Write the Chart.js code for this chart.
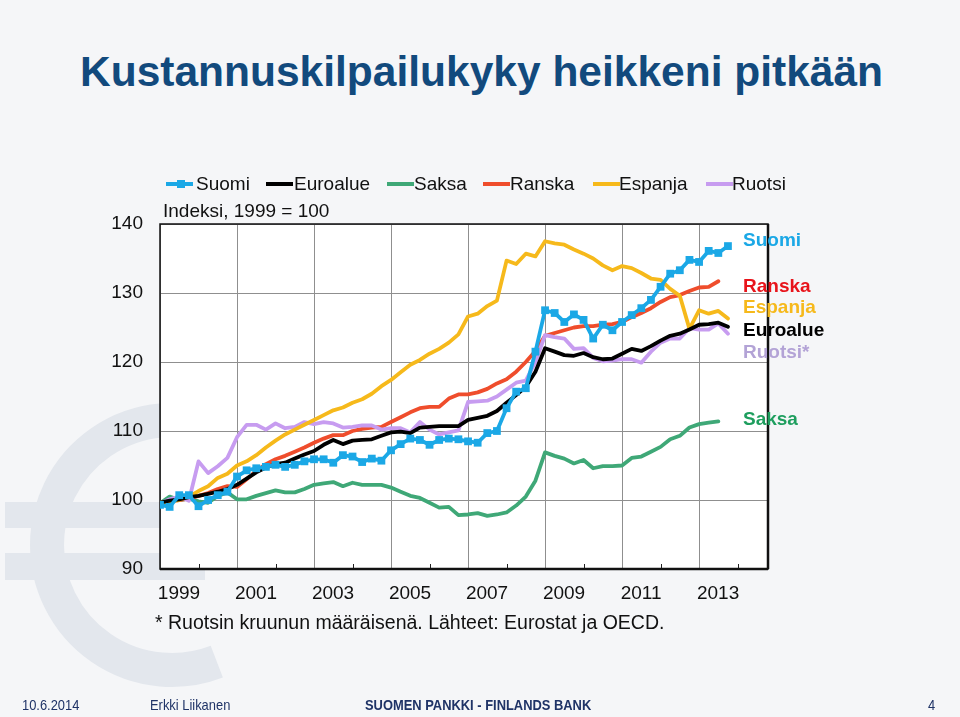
<!DOCTYPE html>
<html lang="fi">
<head>
<meta charset="utf-8">
<title>Kustannuskilpailukyky heikkeni pitkään</title>
<script src="https://cdn.jsdelivr.net/npm/chart.js@4.4.1/dist/chart.umd.min.js"></script>
<style>
  html, body { margin: 0; padding: 0; }
  body {
    width: 960px; height: 717px; overflow: hidden; position: relative;
    background: #f5f6f8;
    font-family: Arial, "Liberation Sans", sans-serif;
  }
  #euro { position: absolute; left: 0; top: 0; }
  #chart { position: absolute; left: 0; top: 0; }
  .txt { position: absolute; white-space: nowrap; font-size: 19px; line-height: 22px; color: #111; }
  .title { left: 80px; top: 47px; font-size: 42.5px; line-height: 50px; font-weight: bold; color: #124a7d; }
  .lg-line { position: absolute; height: 4px; width: 27px; top: 182px; }
  .lg-mark { position: absolute; width: 8px; height: 8px; top: 180px; background: #1ba8e6; }
  .end { font-weight: bold; left: 743px; }
  .foot {
    font-family: "Liberation Sans Narrow", "Arial Narrow", Arial, sans-serif;
    font-size: 15px; line-height: 18px; top: 696px; color: #1f3366;
    transform: scaleX(0.86); transform-origin: left center;
  }
</style>
</head>
<body>
<svg id="euro" width="960" height="717">
  <path d="M216.8 661.7 A125 125 0 1 1 216.8 428.3" fill="none" stroke="#e3e7ed" stroke-width="34"/>
  <rect x="5" y="502" width="200" height="26" fill="#e3e7ed"/>
  <rect x="5" y="553" width="200" height="27" fill="#e3e7ed"/>
</svg>

<div class="txt title">Kustannuskilpailukyky heikkeni pitkään</div>

<canvas id="chart" width="960" height="717"></canvas>

<!-- selite -->
<div class="lg-line" style="left:166px;background:#1ba8e6"></div>
<div class="lg-mark" style="left:177px"></div>
<div class="txt" style="left:196px;top:173px">Suomi</div>
<div class="lg-line" style="left:266px;background:#000"></div>
<div class="txt" style="left:294px;top:173px">Euroalue</div>
<div class="lg-line" style="left:387px;background:#3fa877"></div>
<div class="txt" style="left:414px;top:173px">Saksa</div>
<div class="lg-line" style="left:483px;background:#ef4d2c"></div>
<div class="txt" style="left:510px;top:173px">Ranska</div>
<div class="lg-line" style="left:593px;background:#f6b91b"></div>
<div class="txt" style="left:619px;top:173px">Espanja</div>
<div class="lg-line" style="left:706px;background:#c79cf0"></div>
<div class="txt" style="left:732px;top:173px">Ruotsi</div>

<div class="txt" style="left:163px;top:200px">Indeksi, 1999 = 100</div>

<!-- sarjojen nimet oikealla -->
<div class="txt end" style="top:229px;color:#1ba8e6">Suomi</div>
<div class="txt end" style="top:275px;color:#e8141b">Ranska</div>
<div class="txt end" style="top:296px;color:#f6b91b">Espanja</div>
<div class="txt end" style="top:319px;color:#000">Euroalue</div>
<div class="txt end" style="top:341px;color:#b3a3d6">Ruotsi*</div>
<div class="txt end" style="top:408px;color:#1e9e5e">Saksa</div>

<div class="txt" style="left:155px;top:611px;font-size:19.5px">* Ruotsin kruunun määräisenä. Lähteet: Eurostat ja OECD.</div>

<div class="txt foot" style="left:22px">10.6.2014</div>
<div class="txt foot" style="left:150px">Erkki Liikanen</div>
<div class="txt foot" style="left:365px;font-weight:bold">SUOMEN PANKKI - FINLANDS BANK</div>
<div class="txt foot" style="left:928px">4</div>

<script>
// Neljännekset
const quarters = [
  '1999Q1', '1999Q2', '1999Q3', '1999Q4',
  '2000Q1', '2000Q2', '2000Q3', '2000Q4',
  '2001Q1', '2001Q2', '2001Q3', '2001Q4',
  '2002Q1', '2002Q2', '2002Q3', '2002Q4',
  '2003Q1', '2003Q2', '2003Q3', '2003Q4',
  '2004Q1', '2004Q2', '2004Q3', '2004Q4',
  '2005Q1', '2005Q2', '2005Q3', '2005Q4',
  '2006Q1', '2006Q2', '2006Q3', '2006Q4',
  '2007Q1', '2007Q2', '2007Q3', '2007Q4',
  '2008Q1', '2008Q2', '2008Q3', '2008Q4',
  '2009Q1', '2009Q2', '2009Q3', '2009Q4',
  '2010Q1', '2010Q2', '2010Q3', '2010Q4',
  '2011Q1', '2011Q2', '2011Q3', '2011Q4',
  '2012Q1', '2012Q2', '2012Q3', '2012Q4',
  '2013Q1', '2013Q2', '2013Q3', '2013Q4'
];

// Indeksi, 1999 = 100
const suomi = [99.3, 99.0, 100.7, 100.7, 99.1, 100.0, 100.7, 101.2, 103.4, 104.3,
  104.6, 104.8, 105.1, 104.8, 105.1, 105.6, 105.9, 105.9, 105.4, 106.5,
  106.3, 105.5, 106.0, 105.7, 107.2, 108.1, 108.9, 108.7, 108.0, 108.7,
  108.9, 108.8, 108.5, 108.3, 109.7, 110.0, 113.3, 115.7, 116.2, 121.5,
  127.5, 127.1, 125.8, 126.9, 126.1, 123.4, 125.4, 124.6, 125.8, 126.8,
  127.8, 129.0, 130.9, 132.8, 133.3, 134.8, 134.5, 136.1, 135.8, 136.8];
const euroalue = [99.6, 99.9, 100.1, 100.4, 100.6, 100.9, 101.2, 101.6, 102.2, 103.1,
  104.0, 104.7, 105.2, 105.4, 106.0, 106.6, 107.1, 108.0, 108.7, 108.1,
  108.6, 108.7, 108.8, 109.3, 109.8, 109.9, 109.7, 110.5, 110.6, 110.7,
  110.7, 110.7, 111.6, 111.9, 112.2, 112.9, 114.1, 115.2, 116.4, 118.6,
  122.0, 121.5, 121.0, 120.9, 121.3, 120.7, 120.4, 120.5, 121.2, 121.9,
  121.6, 122.3, 123.1, 123.8, 124.1, 124.7, 125.4, 125.5, 125.7, 125.1];
const saksa = [99.5, 100.5, 100.0, 100.2, 99.8, 99.6, 100.6, 101.1, 100.1, 100.1,
  100.6, 101.0, 101.4, 101.1, 101.1, 101.6, 102.2, 102.4, 102.6, 102.0,
  102.5, 102.2, 102.2, 102.2, 101.8, 101.2, 100.6, 100.3, 99.6, 98.9,
  99.0, 97.8, 97.9, 98.1, 97.7, 97.9, 98.2, 99.2, 100.5, 102.8,
  106.9, 106.4, 106.0, 105.3, 105.8, 104.6, 104.9, 104.9, 105.0, 106.1,
  106.3, 107.0, 107.7, 108.8, 109.3, 110.5, 111.0, 111.2, 111.4];
const ranska = [99.5, 99.8, 100.0, 100.2, 100.6, 101.0, 101.6, 102.0, 101.9, 103.0,
  104.2, 105.2, 105.9, 106.4, 107.0, 107.6, 108.3, 108.9, 109.4, 109.4,
  110.0, 110.3, 110.5, 110.6, 111.3, 112.0, 112.7, 113.3, 113.5, 113.5,
  114.7, 115.3, 115.3, 115.6, 116.1, 116.9, 117.5, 118.6, 120.0, 121.6,
  123.8, 124.2, 124.6, 125.0, 125.2, 125.2, 125.4, 125.5, 125.8, 126.5,
  127.1, 127.8, 128.7, 129.4, 129.7, 130.3, 130.8, 130.9, 131.7];
const espanja = [99.6, 99.8, 100.0, 100.5, 101.3, 102.0, 103.2, 103.8, 105.0, 105.6,
  106.5, 107.6, 108.6, 109.5, 110.2, 110.9, 111.6, 112.3, 113.0, 113.4,
  114.1, 114.6, 115.4, 116.5, 117.4, 118.5, 119.6, 120.3, 121.2, 121.9,
  122.8, 124.0, 126.6, 127.0, 128.1, 128.9, 134.7, 134.2, 135.7, 135.3,
  137.5, 137.2, 137.0, 136.3, 135.7, 135.0, 134.0, 133.3, 133.9, 133.6,
  132.9, 132.1, 131.9, 130.6, 129.6, 124.8, 127.5, 127.0, 127.4, 126.3];
const ruotsi = [99.5, 100.1, 100.5, 99.9, 105.6, 103.9, 104.9, 106.1, 109.1, 110.9,
  110.9, 110.2, 111.1, 110.4, 110.6, 111.3, 111.0, 111.3, 111.1, 110.5,
  110.6, 110.8, 110.8, 110.2, 110.4, 110.4, 109.8, 111.3, 110.2, 109.5,
  109.8, 110.1, 114.2, 114.3, 114.4, 115.0, 116.0, 117.0, 117.3, 120.0,
  123.9, 123.6, 123.4, 121.9, 122.0, 120.6, 120.1, 120.2, 120.4, 120.4,
  119.9, 121.5, 122.8, 123.4, 123.4, 124.9, 124.7, 124.7, 125.6, 124.1];

// Akselit
const tickYears = [1999, 2000, 2001, 2002, 2003, 2004, 2005, 2006, 2007, 2008, 2009, 2010, 2011, 2012, 2013, 2014];
const yearLabels = ['1999', '2001', '2003', '2005', '2007', '2009', '2011', '2013'];
const yTicks = [90, 100, 110, 120, 130, 140];

// neljännes -> vuosiluku desimaalina
function quarterToX(q) {
  return parseInt(q.slice(0, 4)) + (parseInt(q.slice(5)) - 1) / 4;
}

function toPoints(values) {
  return values.map((v, i) => ({ x: quarterToX(quarters[i]), y: v }));
}

function lineSet(label, values, color, extra) {
  return Object.assign({
    label: label,
    data: toPoints(values),
    borderColor: color,
    backgroundColor: color,
    borderWidth: 3.8,
    pointRadius: 0,
    tension: 0,
    borderJoinStyle: 'round',
    borderCapStyle: 'round'
  }, extra || {});
}

// valkoinen kuva-ala ja kehys
const plotFrame = {
  id: 'plotFrame',
  beforeDraw(chart) {
    const { ctx, chartArea: a } = chart;
    ctx.save();
    ctx.fillStyle = '#ffffff';
    ctx.fillRect(a.left, a.top, a.right - a.left, a.bottom - a.top);
    ctx.restore();
  },
  beforeDatasetsDraw(chart) {
    const { ctx, chartArea: a, scales } = chart;
    ctx.save();
    ctx.strokeStyle = '#222';
    ctx.lineWidth = 1;
    scales.x.ticks.forEach(t => {
      if (t.value % 2 === 0) {
        const px = Math.round(scales.x.getPixelForValue(t.value)) + 0.5;
        ctx.beginPath();
        ctx.moveTo(px, a.bottom);
        ctx.lineTo(px, a.bottom - 5);
        ctx.stroke();
      }
    });
    ctx.strokeStyle = '#111';
    ctx.lineWidth = 1.5;
    ctx.strokeRect(a.left, a.top, a.right - a.left, a.bottom - a.top);
    ctx.lineWidth = 2.5;
    ctx.beginPath();
    ctx.moveTo(a.left, a.bottom);
    ctx.lineTo(a.right, a.bottom);
    ctx.moveTo(a.right, a.top);
    ctx.lineTo(a.right, a.bottom);
    ctx.stroke();
    ctx.restore();
  }
};

const tickFont = { family: 'Arial, "Liberation Sans", sans-serif', size: 19 };

new Chart(document.getElementById('chart'), {
  type: 'line',
  data: {
    datasets: [
      lineSet('Suomi', suomi, '#1ba8e6', {
        pointRadius: 5.5, pointStyle: 'rect', pointBorderWidth: 0, pointBackgroundColor: '#1ba8e6'
      }),
      lineSet('Euroalue', euroalue, '#000000'),
      lineSet('Espanja', espanja, '#f6b91b'),
      lineSet('Ruotsi', ruotsi, '#c79cf0'),
      lineSet('Ranska', ranska, '#ef4d2c'),
      lineSet('Saksa', saksa, '#3fa877')
    ]
  },
  options: {
    responsive: false,
    animation: false,
    layout: { padding: { left: 100, top: 224, right: 192, bottom: 88 } },
    plugins: {
      legend: { display: false },
      tooltip: { enabled: false }
    },
    scales: {
      x: {
        type: 'linear',
        min: 1999,
        max: 2014.79,
        afterBuildTicks: scale => { scale.ticks = tickYears.map(v => ({ value: v })); },
        afterFit: scale => { scale.height = 60; },
        ticks: {
          autoSkip: false,
          maxRotation: 0,
          labelOffset: 19,
          padding: 13,
          color: '#111',
          font: tickFont,
          callback: v => yearLabels.includes(String(v)) ? String(v) : ''
        },
        grid: {
          drawTicks: false,
          lineWidth: 1,
          color: ctx => (ctx.tick && ctx.tick.value % 2 === 1) ? '#8f8f8f' : 'rgba(0,0,0,0)'
        },
        border: { display: false }
      },
      y: {
        min: 90,
        max: 140,
        afterBuildTicks: scale => { scale.ticks = yTicks.map(v => ({ value: v })); },
        afterFit: scale => { scale.width = 60; },
        ticks: {
          padding: 17,
          color: '#111',
          font: tickFont
        },
        grid: { drawTicks: false, color: '#8f8f8f', lineWidth: 1 },
        border: { display: false }
      }
    }
  },
  plugins: [plotFrame]
});
</script>
</body>
</html>
